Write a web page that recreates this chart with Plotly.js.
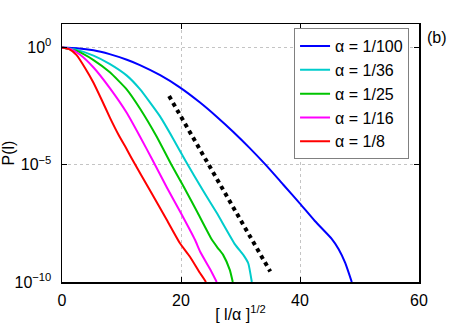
<!DOCTYPE html>
<html>
<head>
<meta charset="utf-8">
<script src="https://cdn.plot.ly/plotly-3.0.1.min.js"></script>
<style>
  html, body { margin: 0; padding: 0; background: white; }
  #plot { width: 463px; height: 325px; }
</style>
</head>
<body>
<div id="plot"></div>
<script>
// values: x = [l/alpha]^(1/2), y = P(l)
const xBlue = [0, 2.5, 5.3, 8, 10.9, 13.1, 16.5, 19.8, 23.2, 26, 28.8, 31.6, 34.4, 37.2, 40, 42.5, 45.3, 46.5, 47.6, 48.7];
const pBlue = [1, 0.93, 0.76, 0.52, 0.30, 0.178, 0.066, 0.02, 4.5e-3, 1.12e-3, 2.5e-4, 5.0e-5, 8.9e-6, 1.4e-6, 2.2e-7, 4.0e-8, 7.1e-9, 2.5e-9, 6.5e-10, 1e-10];

const xCyan = [0, 2.5, 5.3, 8, 10.9, 13.1, 16.5, 18.7, 20.8, 23.7, 26, 29.1, 30.5, 31.3, 31.9];
const pCyan = [1, 0.79, 0.45, 0.2, 0.063, 0.0166, 1.12e-3, 1.26e-4, 1.4e-5, 7.9e-7, 8.9e-8, 3.9e-9, 1.4e-9, 6.3e-10, 1e-10];

const xGreen = [0, 2.5, 5.3, 8, 10.9, 13.1, 15.9, 18.3, 20.5, 22.8, 25.2, 26.2, 27.1, 28.2, 28.7];
const pGreen = [1, 0.71, 0.29, 0.089, 0.016, 2.5e-3, 1.6e-4, 1.1e-5, 1.1e-6, 8.9e-8, 6.3e-9, 2.8e-9, 1.4e-9, 3.3e-10, 1e-10];

const xMagenta = [0, 1.5, 3, 5.3, 8.07, 10.9, 13.1, 15.1, 17.6, 20, 22.35, 23.2, 24.9, 26.0];
const pMagenta = [1, 0.85, 0.5, 0.14, 0.018, 1.6e-3, 1.6e-4, 1.8e-5, 1.1e-6, 8.5e-8, 6.3e-9, 2.0e-9, 3.5e-10, 1e-10];

const xRed = [0, 1.2, 2.46, 3.9, 5.27, 6.7, 8.07, 9.5, 10.9, 11.7, 14.8, 17.6, 19.8, 21.5, 23.2, 24.2];
const pRed = [1, 0.85, 0.47, 0.13, 0.032, 5.6e-3, 1e-3, 1.9e-4, 4.5e-5, 1.9e-5, 7.9e-7, 4.5e-8, 4.6e-9, 1.2e-9, 2.4e-10, 1e-10];

const xSlope = [18.0, 35.0];
const pSlope = [8.5e-3, 2.8e-10];

const seriesNames = ['α = 1/100', 'α = 1/36', 'α = 1/25', 'α = 1/16', 'α = 1/8'];
const seriesColors = ['#0000ff', '#00cccc', '#00c400', '#ff00ff', '#ff0000'];

const xTicks = [0, 20, 40, 60];
const yTicks = [1e-10, 1e-5, 1];
const yTickText = ['10<sup>−10</sup>', '10<sup>−5</sup>', '10<sup>0</sup>'];

const font = 'Liberation Sans, Arial, Helvetica, sans-serif';

const xs = [xBlue, xCyan, xGreen, xMagenta, xRed];
const ps = [pBlue, pCyan, pGreen, pMagenta, pRed];

const traces = xs.map((x, i) => ({
    x: x, y: ps[i],
    mode: 'lines',
    name: seriesNames[i],
    line: { color: seriesColors[i], width: 2, shape: 'spline', smoothing: 0.5 }
}));

traces.push({
    x: xSlope, y: pSlope,
    mode: 'lines',
    showlegend: false,
    line: { color: 'black', width: 4, dash: 'dot' }
});

const axisCommon = {
    showline: true,
    linecolor: 'black',
    linewidth: 1.5,
    mirror: 'ticks',
    ticks: 'inside',
    ticklen: 5,
    tickwidth: 1,
    tickcolor: 'black',
    showgrid: true,
    gridcolor: '#c4c4c4',
    griddash: 'dot',
    gridwidth: 1,
    zeroline: false,
    tickfont: { family: font, size: 16, color: 'black' }
};

const layout = {
    width: 463,
    height: 325,
    margin: { l: 62, r: 44, t: 24, b: 43 },
    paper_bgcolor: 'white',
    plot_bgcolor: 'white',
    font: { family: font, size: 16, color: 'black' },
    showlegend: true,
    legend: {
        x: 0.65, y: 0.984, xanchor: 'left', yanchor: 'top',
        bgcolor: 'white',
        bordercolor: '#808080',
        borderwidth: 1,
        font: { family: font, size: 16, color: 'black' }
    },
    xaxis: {
        ...axisCommon,
        range: [0, 60],
        tickvals: xTicks,
        ticklabelstandoff: 3,
        title: { text: '[ l/α ]<sup>1/2</sup>', font: { family: font, size: 16 }, standoff: 1 }
    },
    yaxis: {
        ...axisCommon,
        type: 'log',
        range: [-10, 1],
        tickvals: yTicks,
        ticktext: yTickText,
        ticklabelstandoff: 6,
        title: { text: 'P(l)', font: { family: font, size: 16 }, standoff: 2 }
    },
    annotations: [{
        text: '(b)',
        xref: 'paper', yref: 'paper',
        x: 1.05, y: 0.946,
        xanchor: 'center', yanchor: 'middle',
        showarrow: false,
        font: { family: font, size: 16, color: 'black' }
    }]
};

Plotly.newPlot('plot', traces, layout, { displayModeBar: false, staticPlot: true });
</script>
</body>
</html>
